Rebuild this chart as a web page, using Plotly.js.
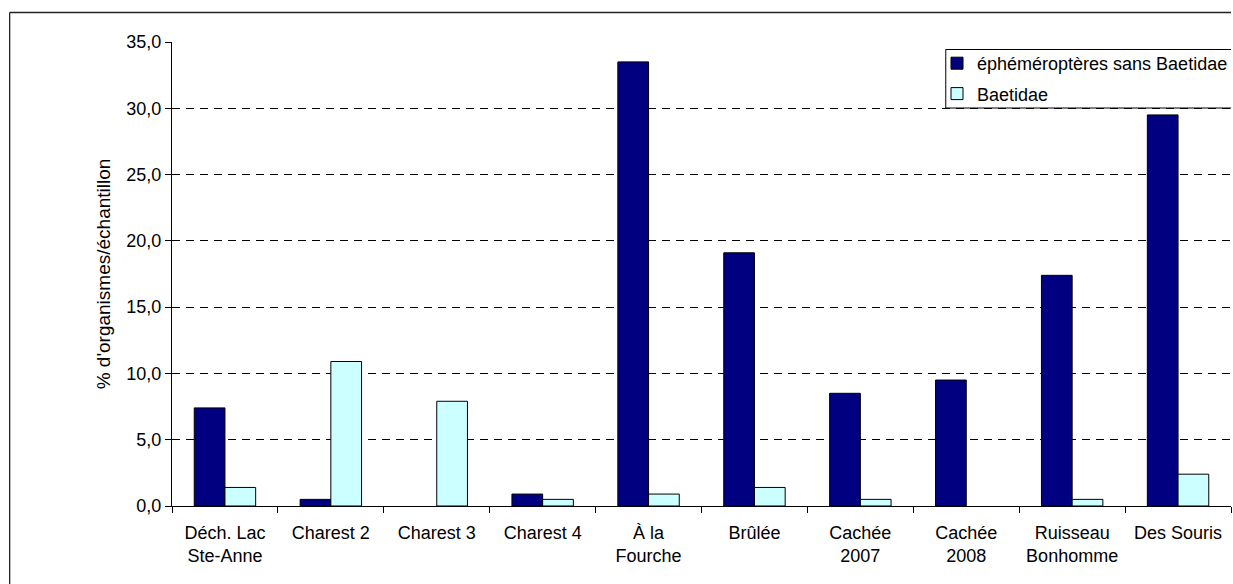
<!DOCTYPE html>
<html>
<head>
<meta charset="utf-8">
<script src="https://cdn.plot.ly/plotly-3.0.1.min.js"></script>
<style>
  html, body { margin: 0; padding: 0; background: #ffffff; overflow: hidden; }
  #chart { width: 1233px; height: 584px; overflow: hidden; }
</style>
</head>
<body>
<div id="chart"></div>
<script>
const categories = [
  "Déch. Lac<br>Ste-Anne", "Charest 2", "Charest 3", "Charest 4", "À la<br>Fourche",
  "Brûlée", "Cachée<br>2007", "Cachée<br>2008", "Ruisseau<br>Bonhomme", "Des Souris"
];
const seriesNames = ["éphéméroptères sans Baetidae", "Baetidae"];
const ephemeropteres = [7.4, 0.5, 0.0, 0.9, 33.5, 19.1, 8.5, 9.5, 17.4, 29.5];
const baetidae = [1.4, 10.9, 7.9, 0.5, 0.9, 1.4, 0.5, 0.0, 0.5, 2.4];
const yTicks = [0, 5, 10, 15, 20, 25, 30, 35];

const FONT = "Liberation Sans, Arial, sans-serif";
// zero-height bars are not drawn in the original (no outline at the baseline)
const noZero = arr => arr.map(v => (v === 0 ? null : v));

const traces = [
  {
    type: "bar", name: seriesNames[0], x: categories, y: noZero(ephemeropteres),
    legendgroup: "g1",
    marker: { color: "#000080", line: { color: "#000000", width: 1 } },
    hoverinfo: "x+y"
  },
  {
    type: "bar", name: seriesNames[1], x: categories, y: noZero(baetidae),
    legendgroup: "g2",
    marker: { color: "#CCFFFF", line: { color: "#000000", width: 1 } },
    hoverinfo: "x+y"
  }
];

const L = 172, R = 1, T = 42, B = 78;
const W = 1233 - L - R, H = 584 - T - B;
const px = v => (v - L) / W;
const py = v => (584 - B - v) / H;

const layout = {
  width: 1233, height: 584,
  margin: { l: L, r: R, t: T, b: B, pad: 0 },
  paper_bgcolor: "#ffffff", plot_bgcolor: "#ffffff",
  font: { family: FONT, size: 18, color: "#000000" },
  separators: ", ",
  barmode: "group", bargap: 0.42, bargroupgap: 0,
  showlegend: true,
  legend: {
    x: px(937), y: py(45), xanchor: "left", yanchor: "top",
    bgcolor: "rgba(0,0,0,0)", borderwidth: 0,
    font: { family: FONT, size: 18, color: "#000000" },
    traceorder: "grouped", tracegroupgap: 4, itemwidth: 30
  },
  xaxis: {
    type: "category",
    showline: true, linecolor: "#000000", linewidth: 1,
    ticks: "outside", ticklen: 6, tickcolor: "#000000", tickwidth: 1,
    tickson: "boundaries", ticklabelstandoff: 10,
    showgrid: false, zeroline: false,
    tickfont: { family: FONT, size: 18, color: "#000000" },
    automargin: false
  },
  yaxis: {
    range: [0, 35], tickvals: yTicks, tickformat: ".1f",
    showline: true, linecolor: "#000000", linewidth: 1,
    ticks: "outside", ticklen: 6, tickcolor: "#000000", tickwidth: 1,
    showgrid: true, gridcolor: "#000000", gridwidth: 1, griddash: "8px,6px",
    zeroline: false,
    tickfont: { family: FONT, size: 18, color: "#000000" },
    title: { text: "% d'organismes/échantillon", font: { family: FONT, size: 19, color: "#000000" }, standoff: 10 },
    automargin: false
  },
  shapes: [
    { // outer chart frame: left edge
      type: "line", xref: "paper", yref: "paper",
      x0: px(9.5), x1: px(9.5), y0: py(12.5), y1: py(584),
      line: { color: "#222222", width: 1.3 }, layer: "above"
    },
    { // outer chart frame: top edge
      type: "line", xref: "paper", yref: "paper",
      x0: px(9.5), x1: px(1232), y0: py(12.5), y1: py(12.5),
      line: { color: "#222222", width: 1.3 }, layer: "above"
    },
    { // legend box (open on the right, continues past the edge)
      type: "path", xref: "paper", yref: "paper",
      path: "M " + px(1232) + "," + py(49.5) + " L " + px(946.5) + "," + py(49.5) +
            " L " + px(946.5) + "," + py(108) + " L " + px(1232) + "," + py(108),
      line: { color: "#000000", width: 1 }, layer: "above"
    }
  ]
};

Plotly.newPlot("chart", traces, layout, { displayModeBar: false, staticPlot: true });
</script>
</body>
</html>
